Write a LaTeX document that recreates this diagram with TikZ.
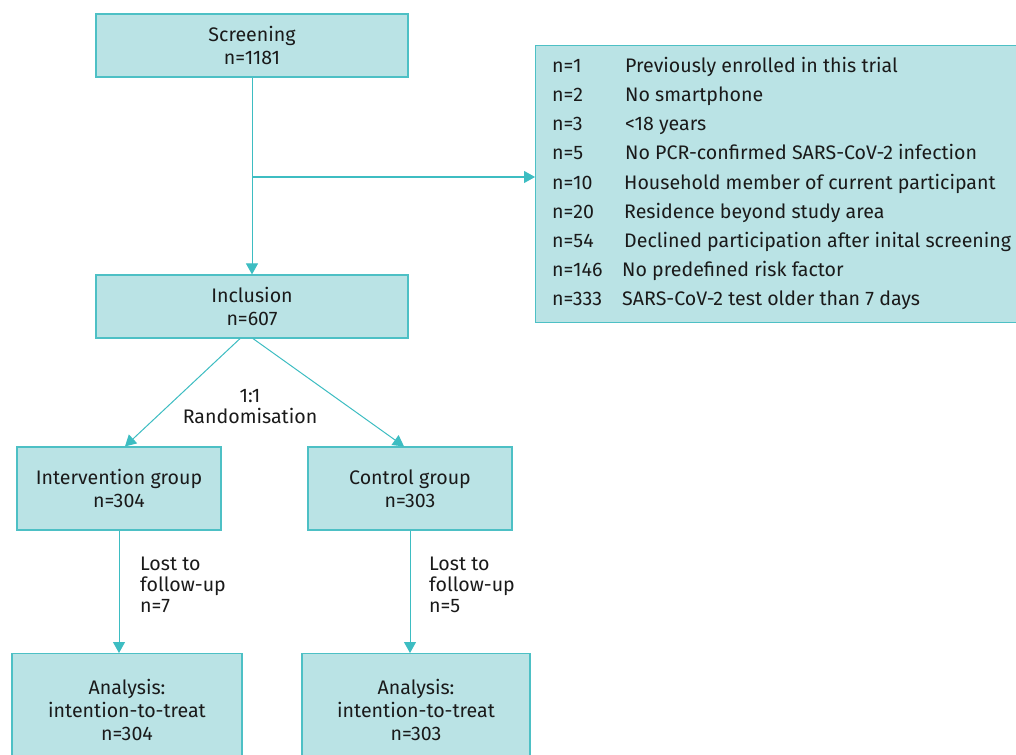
\documentclass[tikz,border=0pt]{standalone}
\usepackage{fontspec}
\setmainfont{Fira Sans}
\usetikzlibrary{arrows.meta,calc}
\definecolor{boxfill}{HTML}{BAE3E5}
\definecolor{boxline}{HTML}{4DC0C5}
\definecolor{arrcol}{HTML}{3DBDC2}
\definecolor{txt}{HTML}{1A1A1A}
\begin{document}
\begin{tikzpicture}[x=1pt,y=-1pt,
  every node/.style={text=txt,font=\fontsize{19.6}{23}\selectfont},
  flowbox/.style={draw=boxline,fill=boxfill,line width=1.2pt,rectangle,align=center,inner sep=0pt},
  arr/.style={draw=arrcol,line width=1pt,-{Triangle[length=11pt,width=12pt]}},
  lbl/.style={align=left,inner sep=0pt,font=\fontsize{19.6}{21}\selectfont},
  exn/.style={anchor=base west,inner sep=0pt}]
\useasboundingbox (0,0) rectangle (1016,754);
\fill[white] (0,0) rectangle (1016,754);
% boxes
\node[flowbox,minimum width=312,minimum height=63] (scr) at (252,45.5) {Screening\\n=1181};
\node[flowbox,minimum width=484,minimum height=277,anchor=north west] (excl) at (535,45) {};
\node[flowbox,minimum width=312,minimum height=63] (incl) at (252,306.5) {Inclusion\\n=607};
\node[flowbox,minimum width=204,minimum height=83] (interv) at (119,488.5) {Intervention group\\n=304};
\node[flowbox,minimum width=204,minimum height=83] (ctrl) at (410,488.5) {Control group\\n=303};
\node[flowbox,minimum width=230,minimum height=110,anchor=north] (anl) at (127,653) {};
\node[flowbox,minimum width=228,minimum height=110,anchor=north] (anr) at (416,653) {};
\node[align=center,inner sep=0pt] (anltxt) at (127,709.5) {Analysis:\\intention-to-treat\\n=304};
\node[align=center,inner sep=0pt] (anrtxt) at (416,709.5) {Analysis:\\intention-to-treat\\n=303};
% exclusion list
\foreach \i/\n/\t/\dx in {0/1/Previously enrolled in this trial/625,
  1/2/No smartphone/625,
  2/3/<18 years/625,
  3/5/No PCR-confirmed SARS-CoV-2 infection/625,
  4/10/Household member of current participant/624,
  5/20/Residence beyond study area/624,
  6/54/Declined participation after inital screening/624,
  7/146/No predefined risk factor/622,
  8/333/SARS-CoV-2 test older than 7 days/622}{
  \node[exn] (en\i) at (552,72.3+29.2*\i) {n=\n};
  \node[exn] (et\i) at (\dx,72.3+29.2*\i) {\t};
}
% connectors
\draw[arr] (scr.south) -- (incl.north);
\coordinate (br) at (252,177);
\draw[arr] (br) -- (br -| excl.west);
\draw[arr] ([xshift=-12pt]incl.south) -- ([xshift=6pt]interv.north);
\draw[arr] ([xshift=1pt]incl.south) -- ([xshift=-6pt]ctrl.north);
\draw[arr] (interv.south) -- (interv.south |- anl.north);
\draw[arr] (ctrl.south) -- (ctrl.south |- anr.north);
% labels
\node[lbl,align=center] (rand) at (250,407) {1:1\\Randomisation};
\node[lbl,anchor=north west] (lostl) at (140,557) {Lost to\\follow-up\\n=7};
\node[lbl,anchor=north west] (lostr) at (429,557) {Lost to\\follow-up\\n=5};
\end{tikzpicture}
\end{document}
